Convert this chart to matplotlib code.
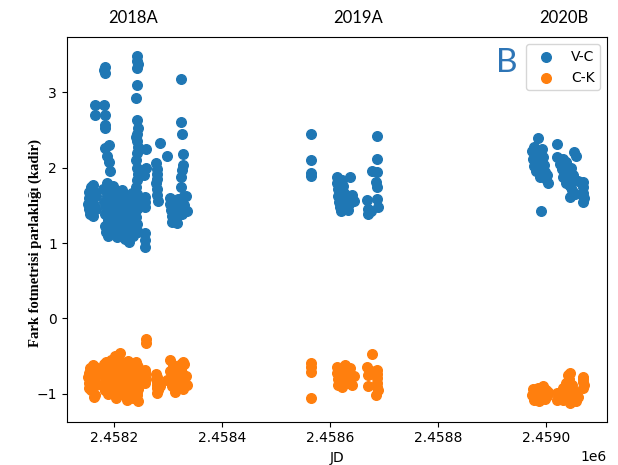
#!/usr/bin/env python3
# -*- coding: utf-8 -*-

import matplotlib
matplotlib.use('Agg')
import matplotlib.pyplot as plt
import numpy as np

# 2018A season
jd_2018a = [
    2458152, 2458153, 2458153, 2458154, 2458155, 2458155, 2458156, 2458156, 2458157, 2458158,
    2458158, 2458159, 2458159, 2458160, 2458160, 2458161, 2458162, 2458162,
    2458165, 2458165, 2458166, 2458166,
    2458181, 2458182, 2458182, 2458181, 2458182, 2458183, 2458183, 2458183, 2458186, 2458190,
    2458191, 2458192,
    2458180, 2458181, 2458182, 2458183, 2458184, 2458185, 2458186, 2458187, 2458188, 2458189,
    2458190, 2458191, 2458192, 2458193, 2458194, 2458195, 2458196, 2458197, 2458198, 2458199,
    2458200, 2458201, 2458202, 2458203, 2458204, 2458205, 2458206, 2458207, 2458208, 2458209,
    2458210, 2458211, 2458212, 2458213, 2458214, 2458215, 2458216, 2458217, 2458218, 2458219,
    2458220, 2458221, 2458222, 2458223, 2458224, 2458225, 2458226, 2458227, 2458228, 2458229,
    2458230, 2458231, 2458232, 2458233, 2458234, 2458235, 2458236, 2458237, 2458238, 2458239,
    2458242, 2458242, 2458243, 2458242, 2458242, 2458241, 2458242, 2458243, 2458242, 2458241,
    2458242, 2458243, 2458242, 2458241, 2458242, 2458243, 2458242, 2458241, 2458242, 2458243,
    2458242, 2458241, 2458242, 2458243,
    2458259, 2458259, 2458256, 2458257, 2458256, 2458257, 2458256, 2458257, 2458255,
    2458278, 2458279, 2458279, 2458280, 2458278, 2458280, 2458279, 2458281,
    2458284, 2458297,
    2458324, 2458323, 2458325, 2458328, 2458328, 2458325, 2458323, 2458323, 2458327,
    2458303, 2458304, 2458305, 2458306, 2458307, 2458308, 2458310, 2458312, 2458314, 2458316,
    2458318, 2458320, 2458326, 2458330, 2458332, 2458334,
]
vc_2018a = [
    1.52, 1.60, 1.45, 1.68, 1.55, 1.38, 1.62, 1.74, 1.48, 1.57,
    1.66, 1.42, 1.53, 1.77, 1.60, 1.36, 1.50, 1.68,
    2.83, 2.70, 1.62, 1.45,
    3.29, 3.25, 3.33, 2.83, 2.70, 2.56, 2.52, 2.26, 2.16, 2.30,
    2.07, 1.95,
    1.72, 1.55, 1.38, 1.22, 1.15, 1.48, 1.62, 1.80, 1.30, 1.10,
    1.42, 1.58, 1.25, 1.68, 1.35, 1.50, 1.18, 1.44, 1.76, 1.28,
    1.52, 1.36, 1.64, 1.20, 1.46, 1.08, 1.32, 1.56, 1.40, 1.24,
    1.60, 1.12, 1.48, 1.34, 1.70, 1.26, 1.42, 1.16, 1.54, 1.30,
    1.05, 1.45, 1.38, 1.62, 1.22, 1.50, 1.14, 1.36, 1.02, 1.28,
    1.58, 1.44, 1.20, 1.66, 1.10, 1.40, 1.32, 1.54, 1.18, 1.46,
    3.48, 3.42, 3.37, 3.32, 3.10, 2.93, 2.63, 2.52, 2.45, 2.40,
    2.36, 2.28, 2.19, 2.10, 2.00, 1.92, 1.83, 1.74, 1.65, 1.55,
    1.45, 1.35, 1.25, 1.15,
    2.25, 1.99, 1.61, 1.54, 1.48, 1.13, 1.04, 0.95, 1.90,
    2.06, 1.98, 1.92, 1.85, 1.80, 1.72, 1.64, 1.56,
    2.33, 2.15,
    3.17, 2.60, 2.45, 2.18, 2.03, 1.97, 1.87, 1.74, 1.61,
    1.60, 1.52, 1.44, 1.36, 1.28, 1.55, 1.48, 1.40, 1.32, 1.26,
    1.58, 1.46, 1.38, 1.50, 1.63, 1.42,
]
ck_2018a = [
    -0.78, -0.85, -0.72, -0.92, -0.80, -0.66, -0.88, -0.75, -0.95, -0.82,
    -0.70, -0.86, -0.77, -0.90, -0.83, -0.62, -1.04, -0.81,
    -0.64, -1.02, -0.75, -0.88,
    -0.60, -0.74, -0.83, -0.91, -0.68, -0.79, -0.95, -0.86, -0.72, -0.64,
    -0.81, -0.99,
    -0.72, -0.88, -0.65, -0.95, -0.80, -0.58, -0.84, -0.70, -1.00, -0.76,
    -0.62, -0.90, -0.74, -0.82, -0.55, -0.96, -0.68, -0.86, -0.78, -0.64,
    -0.92, -0.50, -0.80, -1.05, -0.70, -0.85, -0.60, -0.94, -0.75, -0.88,
    -0.46, -0.82, -0.66, -0.98, -0.72, -0.58, -0.90, -0.78, -1.02, -0.68,
    -0.84, -0.62, -0.94, -0.74, -1.08, -0.80, -0.56, -0.88, -0.70, -1.00,
    -0.76, -0.64, -0.92, -0.82, -1.06, -0.60, -0.86, -0.72, -0.98, -0.78,
    -0.70, -0.82, -0.64, -0.90, -0.76, -0.58, -0.86, -0.72, -0.98, -0.80,
    -0.66, -0.92, -0.74, -0.84, -0.62, -1.10, -0.78, -0.88, -0.68, -0.94,
    -0.75, -0.85, -1.02, -0.80,
    -0.27, -0.33, -0.70, -0.78, -0.86, -0.74, -0.82, -0.69, -0.80,
    -0.74, -0.84, -0.92, -0.99, -0.80, -0.88, -0.78, -0.95,
    -0.90, -0.82,
    -0.60, -0.66, -0.72, -0.80, -0.58, -0.88, -0.76, -0.64, -0.94,
    -0.55, -0.70, -0.82, -0.90, -0.78, -0.62, -0.86, -0.97, -0.74, -0.80,
    -0.68, -0.84, -0.92, -0.60, -0.76, -0.88,
]

# 2019A season
jd_2019a = [
    2458564, 2458564, 2458565, 2458565,
    2458612, 2458613, 2458614, 2458615, 2458616, 2458618, 2458620, 2458622, 2458624, 2458626,
    2458628, 2458630, 2458632, 2458634, 2458636, 2458640, 2458644,
    2458668, 2458669, 2458670, 2458677, 2458676,
    2458686, 2458686, 2458687, 2458685, 2458686, 2458687, 2458688,
]
vc_2019a = [
    2.45, 2.10, 1.93, 1.89,
    1.88, 1.80, 1.72, 1.62, 1.55, 1.48, 1.42, 1.84, 1.76, 1.66,
    1.58, 1.50, 1.44, 1.52, 1.87, 1.64, 1.56,
    1.57, 1.39, 1.45, 1.96, 1.43,
    2.42, 2.11, 1.94, 1.81, 1.74, 1.59, 1.48,
]
ck_2019a = [
    -0.59, -0.64, -0.71, -1.06,
    -0.64, -0.72, -0.80, -0.88, -0.76, -0.68, -0.84, -0.91, -0.70, -0.78,
    -0.62, -0.86, -0.74, -0.82, -0.66, -0.88, -0.76,
    -0.64, -0.75, -0.90, -0.47, -0.70,
    -0.68, -0.79, -0.91, -1.02, -0.85, -0.74, -0.95,
]

# 2020B season
jd_2020b = [
    2458984, 2458974, 2458976, 2458978, 2458980, 2458982, 2458985, 2458987, 2458989, 2458991,
    2458993, 2458995, 2458997, 2458999, 2459001, 2459003, 2458977, 2458983, 2458990,
    2459019, 2459019,
    2459025, 2459028, 2459031, 2459034, 2459037, 2459040, 2459043, 2459046, 2459049, 2459052,
    2459055, 2459058, 2459030, 2459036, 2459042, 2459048, 2459053, 2459044, 2459039,
    2459067, 2459068, 2459068, 2459069, 2459068,
]
vc_2020b = [
    2.39, 2.22, 2.12, 2.02, 1.95, 2.18, 2.08, 1.98, 1.88, 2.25,
    2.14, 2.04, 1.94, 1.85, 1.90, 1.79, 2.28, 2.00, 1.42,
    2.32, 2.14,
    2.05, 1.98, 2.12, 1.92, 2.08, 1.85, 1.75, 2.00, 1.90, 2.21,
    2.15, 1.82, 1.88, 1.80, 1.95, 1.70, 1.65, 1.61, 2.02,
    1.81, 1.74, 1.67, 1.60, 1.54,
]
ck_2020b = [
    -0.98, -1.02, -0.94, -1.08, -0.96, -1.04, -0.92, -1.10, -0.99, -1.05,
    -0.90, -1.00, -1.07, -0.95, -1.03, -0.97, -1.06, -0.93, -1.01,
    -0.99, -1.08,
    -1.05, -0.98, -1.08, -0.94, -0.85, -0.75, -0.73, -0.90, -1.02, -0.96,
    -1.10, -1.04, -0.92, -1.00, -0.80, -0.88, -1.06, -1.12, -0.97,
    -0.77, -0.84, -0.92, -0.88, -0.80,
]

season_labels = ["2018A", "2019A", "2020B"]


def main():
    jd = np.array(jd_2018a + jd_2019a + jd_2020b, dtype=float)
    vc = np.array(vc_2018a + vc_2019a + vc_2020b)
    ck = np.array(ck_2018a + ck_2019a + ck_2020b)

    fig = plt.figure(figsize=(6.18, 4.65), dpi=100)
    ax = fig.add_axes([0.108, 0.093, 0.874, 0.827])

    ax.scatter(jd, vc, s=48, color="tab:blue", label="V-C")
    ax.scatter(jd, ck, s=48, color="tab:orange", label="C-K")

    ax.set_xlim(2458112, 2459112)
    ax.set_ylim(-1.37, 3.73)
    ax.ticklabel_format(axis="x", useOffset=False)
    ax.set_xticks([2458200, 2458400, 2458600, 2458800, 2459000])
    ax.set_yticks([-1, 0, 1, 2, 3])

    ax.set_xlabel("JD")
    ax.set_ylabel("Fark fotmetrisi parlaklığı (kadir)",
                  family="Liberation Serif", fontweight="bold", fontsize=10.5)
    ax.yaxis.set_label_coords(-0.046, 0.464)

    ax.legend(loc="upper right")

    # season names above the panel
    for label, x in zip(season_labels, [133, 358, 564]):
        fig.text(x / 618, 1 - 18 / 465, label, ha="center", va="center",
                 family="Lato", fontsize=12)

    fig.text(507 / 618, 1 - 63 / 465, "B", ha="center", va="center",
             family="Lato", fontsize=24, color="#2e75b6")

    fig.savefig("out.png", dpi=100)


if __name__ == '__main__':
    main()
